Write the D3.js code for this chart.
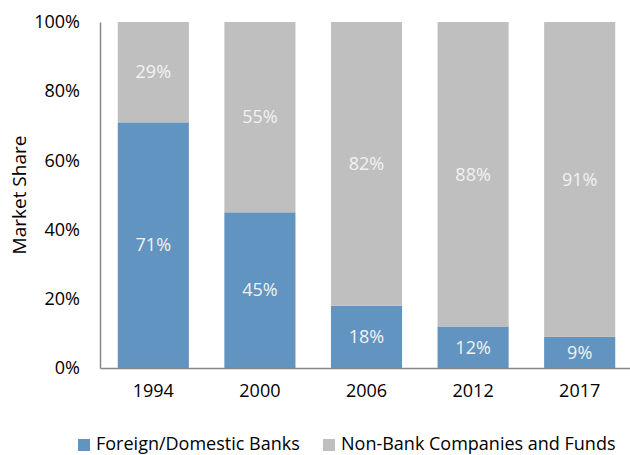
<!DOCTYPE html>
<html>
<head>
<meta charset="utf-8">
<script src="https://cdn.jsdelivr.net/npm/d3@7"></script>
<style>
  body { margin: 0; background: #fff; }
  svg { display: block; font-family: "Open Sans", sans-serif; }
</style>
</head>
<body>
<svg width="630" height="455"></svg>
<script>
const years = ["1994", "2000", "2006", "2012", "2017"];
const banks = [71, 45, 18, 12, 9];
const nonBanks = [29, 55, 82, 88, 91];
const seriesNames = ["Foreign/Domestic Banks", "Non-Bank Companies and Funds"];
const colors = ["#6194c0", "#bfbfbf"];
const yTicks = [0, 20, 40, 60, 80, 100];

const width = 630;
const height = 455;
const margin = { left: 100, right: -3, top: 22, bottom: 87 };

const svg = d3.select("svg");

const rows = years.map((y, i) => ({ year: y, banks: banks[i], nonBanks: nonBanks[i] }));
const stack = d3.stack().keys(["banks", "nonBanks"])(rows);

const xScale = d3
  .scaleBand()
  .domain(years)
  .range([margin.left, width - margin.right])
  .paddingInner(0.333)
  .paddingOuter(0.1667);

const yScale = d3.scaleLinear().domain([0, 100]).range([height - margin.bottom, margin.top]);

// bars
svg
  .append("g")
  .selectAll("g")
  .data(stack)
  .join("g")
  .attr("fill", (d, i) => colors[i])
  .selectAll("rect")
  .data((d) => d)
  .join("rect")
  .attr("x", (d) => xScale(d.data.year))
  .attr("width", xScale.bandwidth())
  .attr("y", (d) => yScale(d[1]))
  .attr("height", (d) => yScale(d[0]) - yScale(d[1]));

// value labels
svg
  .append("g")
  .selectAll("g")
  .data(stack)
  .join("g")
  .selectAll("text")
  .data((d) => d.map((v) => ({ v, key: d.key })))
  .join("text")
  .attr("x", (d) => xScale(d.v.data.year) + xScale.bandwidth() / 2)
  .attr("y", (d) => (yScale(d.v[0]) + yScale(d.v[1])) / 2)
  .attr("dy", "0.35em")
  .attr("text-anchor", "middle")
  .attr("fill", "#f2f2f2")
  .style("font-size", "18px")
  .text((d) => d.v.data[d.key] + "%");

// axes
const xAxis = svg
  .append("g")
  .attr("transform", `translate(0,${height - margin.bottom})`)
  .call(d3.axisBottom(xScale).tickSize(0).tickPadding(16));
xAxis.select(".domain").attr("stroke", "#868686").attr("stroke-width", 1.5);
xAxis.selectAll("text").attr("fill", "#000").style("font-size", "18px").style("font-family", "Open Sans");

const yAxis = svg
  .append("g")
  .attr("transform", `translate(${margin.left},0)`)
  .call(
    d3
      .axisLeft(yScale)
      .tickValues(yTicks)
      .tickSize(0)
      .tickPadding(20)
      .tickFormat((d) => d + "%")
  );
yAxis.select(".domain").attr("stroke", "#868686").attr("stroke-width", 1.5);
yAxis.selectAll("text").attr("fill", "#000").style("font-size", "18px").style("font-family", "Open Sans");

// y title
svg
  .append("text")
  .attr("transform", `translate(19,${(yScale(0) + yScale(100)) / 2}) rotate(-90)`)
  .attr("dy", "0.35em")
  .attr("text-anchor", "middle")
  .style("font-size", "19px")
  .attr("fill", "#000")
  .text("Market Share");

// legend
const legendX = [78, 323];
const legend = svg
  .append("g")
  .selectAll("g")
  .data(seriesNames)
  .join("g")
  .attr("transform", (d, i) => `translate(${legendX[i]},439)`);
legend
  .append("rect")
  .attr("width", 12)
  .attr("height", 12)
  .attr("fill", (d, i) => colors[i]);
legend
  .append("text")
  .attr("x", 18)
  .attr("y", 6)
  .attr("dy", "0.3em")
  .style("font-size", "18px")
  .attr("fill", "#000")
  .text((d) => d);
</script>
</body>
</html>
